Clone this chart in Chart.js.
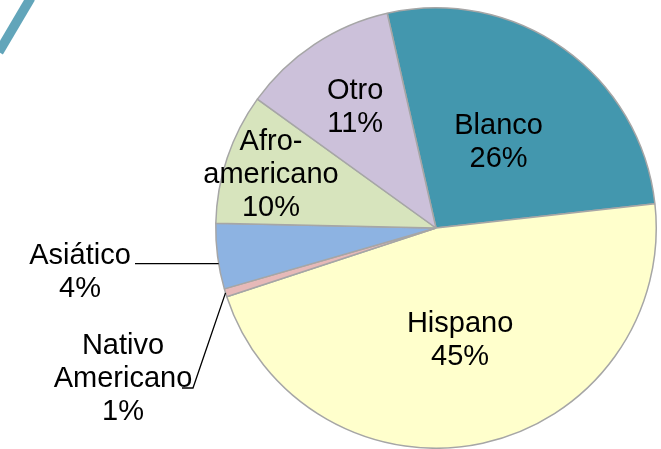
<!DOCTYPE html>
<html>
<head>
<meta charset="utf-8">
<script src="https://cdn.jsdelivr.net/npm/chart.js@4"></script>
<style>
html, body { margin: 0; padding: 0; background: #fff; }
</style>
</head>
<body>
<canvas id="grafico" width="661" height="449"></canvas>
<script>
/* Datos del gráfico (orden en el sentido de las agujas del reloj, empezando por Blanco) */
const CATEGORIAS = ["Blanco", "Hispano", "Nativo Americano", "Asiático", "Afroamericano", "Otro"];
const VALORES = [26.8, 46.7, 0.6, 4.8, 9.6, 11.5];
const ETIQUETAS = [
    ["Blanco", "26%"],
    ["Hispano", "45%"],
    ["Nativo", "Americano", "1%"],
    ["Asiático", "4%"],
    ["Afro-", "americano", "10%"],
    ["Otro", "11%"]
];
const COLORES = ["#4397AE", "#FFFFCC", "#E6B9B8", "#8DB3E2", "#D7E4BD", "#CCC1DA"];

/* Ubicación de las etiquetas: r = fracción del radio; fuera = texto con línea guía */
const UBICACION = [
    { r: 0.49 },
    { r: 0.515 },
    { x: 123, y: 377, f: 0.5, linea: [[193, 388], [182, 388]] },
    { x: 80, y: 270, f: 0.39, linea: [[135, null]] },
    { r: 0.79 },
    { r: 0.665 }
];

/* Línea decorativa arriba a la izquierda */
const pluginDecoracion = {
    id: "decoracion",
    beforeDraw(chart) {
        const ctx = chart.ctx;
        ctx.save();
        ctx.strokeStyle = "#62A5BA";
        ctx.lineWidth = 9.5;
        ctx.beginPath();
        ctx.moveTo(30.7, -2);
        ctx.lineTo(-1.2, 52);
        ctx.stroke();
        ctx.restore();
    }
};

/* Etiquetas de datos */
const pluginEtiquetas = {
    id: "etiquetas",
    afterDatasetsDraw(chart) {
        const ctx = chart.ctx;
        const arcos = chart.getDatasetMeta(0).data;
        ctx.save();
        ctx.font = '29px "Liberation Sans", Arial, sans-serif';
        ctx.fillStyle = "#000";
        ctx.strokeStyle = "#000";
        ctx.lineWidth = 1.3;
        ctx.textAlign = "center";
        ctx.textBaseline = "middle";

        arcos.forEach((arc, i) => {
            const p = arc.getProps(["x", "y", "startAngle", "endAngle", "outerRadius"], true);
            const conf = UBICACION[i];
            let tx, ty;

            if (conf.r) {
                const mid = (p.startAngle + p.endAngle) / 2;
                tx = p.x + Math.cos(mid) * p.outerRadius * conf.r;
                ty = p.y + Math.sin(mid) * p.outerRadius * conf.r;
            } else {
                tx = conf.x;
                ty = conf.y;
                const a = p.startAngle + (p.endAngle - p.startAngle) * conf.f;
                const sx = p.x + Math.cos(a) * p.outerRadius;
                const sy = p.y + Math.sin(a) * p.outerRadius;
                ctx.beginPath();
                ctx.moveTo(sx, sy);
                for (const q of conf.linea) ctx.lineTo(q[0], q[1] === null ? sy : q[1]);
                ctx.stroke();
            }

            // pequeño ajuste vertical del texto
            ty += 2;
            const lineas = ETIQUETAS[i];
            const h = 33;
            lineas.forEach((t, k) => {
                ctx.fillText(t, tx, ty + (k - (lineas.length - 1) / 2) * h);
            });
        });
        ctx.restore();
    }
};

new Chart(document.getElementById("grafico"), {
    type: "pie",
    data: {
        labels: CATEGORIAS,
        datasets: [{
            data: VALORES,
            backgroundColor: COLORES,
            borderColor: "#A6A6A6",
            borderWidth: 1.5
        }]
    },
    options: {
        responsive: false,
        animation: false,
        rotation: -12.8,
        layout: { padding: { left: 215, right: 4, top: 7, bottom: 0 } },
        plugins: {
            legend: { display: false },
            tooltip: { enabled: false }
        }
    },
    plugins: [pluginDecoracion, pluginEtiquetas]
});
</script>
</body>
</html>
